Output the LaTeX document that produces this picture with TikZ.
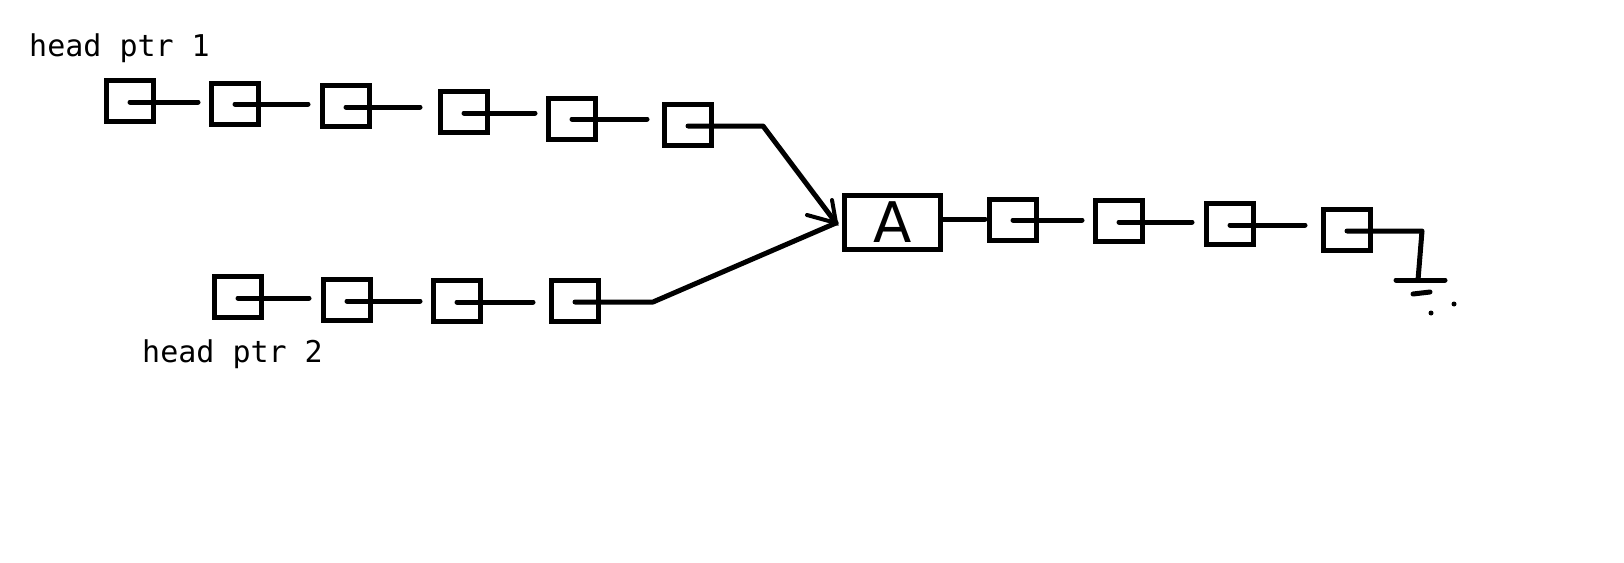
\documentclass[tikz,border=0pt]{standalone}
\usepackage{fontspec}
\setmainfont{DejaVu Sans}
\setmonofont{DejaVu Sans Mono}
\begin{document}
\begin{tikzpicture}[x=1pt,y=-1pt,
  cell/.style={draw, line width=5pt, minimum width=47pt, minimum height=41pt, inner sep=0pt, outer sep=0pt},
  bigcell/.style={draw, line width=5pt, minimum width=96pt, minimum height=54pt, inner sep=0pt, outer sep=0pt,
    font=\fontsize{56}{60}\selectfont},
  ptr/.style={line width=5pt, line cap=round, line join=round},
  lbl/.style={anchor=base west, inner sep=0pt, font=\ttfamily\fontsize{30}{36}\selectfont}]
\useasboundingbox (0,0) rectangle (1624,562);
% labels
\node[lbl] (h1) at (29,56) {head ptr 1};
\node[lbl] (h2) at (142,362) {head ptr 2};
% top list
\node[cell] (t1) at (130,101) {};
\node[cell] (t2) at (235,104) {};
\node[cell] (t3) at (346,106) {};
\node[cell] (t4) at (464,112) {};
\node[cell] (t5) at (572,119) {};
\node[cell] (t6) at (688,125) {};
% bottom list
\node[cell] (c1) at (238,297) {};
\node[cell] (c2) at (347,300) {};
\node[cell] (c3) at (457,301) {};
\node[cell] (c4) at (575,301) {};
% shared list
\node[bigcell] (a) at (892.5,222.5) {A};
\node[cell] (b1) at (1013,219.5) {};
\node[cell] (b2) at (1119,221) {};
\node[cell] (b3) at (1230,224) {};
\node[cell] (b4) at (1347,230) {};
% free ends
\coordinate (e1) at (198,102);
\coordinate (e2) at (308,104);
\coordinate (e3) at (420,107);
\coordinate (e4) at (535,113);
\coordinate (e5) at (647,119);
\coordinate (e6) at (763,126);
\coordinate (f1) at (309,298);
\coordinate (f2) at (420,301);
\coordinate (f3) at (533,302);
\coordinate (f4) at (653,302);
\coordinate (tip) at (836,223);
\coordinate (barbA) at (832,200);
\coordinate (barbB) at (807,215);
\coordinate (g1) at (985,219);
\coordinate (k1) at (1082,220);
\coordinate (k2) at (1192,222);
\coordinate (k3) at (1305,225);
\coordinate (k4) at (1422,231);
\coordinate (gnd) at (1418,280);
\coordinate (gl) at (1396,280);
\coordinate (gr) at (1445,280);
\coordinate (dl) at (1413,294);
\coordinate (dr) at (1430,292);
% pointers top
\draw[ptr] (t1.center |- e1) -- (e1);
\draw[ptr] (t2.center |- e2) -- (e2);
\draw[ptr] (t3.center |- e3) -- (e3);
\draw[ptr] (t4.center |- e4) -- (e4);
\draw[ptr] (t5.center |- e5) -- (e5);
\draw[ptr] (t6.center |- e6) -- (e6) -- (tip);
% pointers bottom
\draw[ptr] (c1.center |- f1) -- (f1);
\draw[ptr] (c2.center |- f2) -- (f2);
\draw[ptr] (c3.center |- f3) -- (f3);
\draw[ptr] (c4.center |- f4) -- (f4) -- (tip);
% arrowhead
\draw[line width=4pt, line cap=round] (barbA) -- (tip) -- (barbB);
% shared list pointers
\draw[ptr] (a.east |- g1) -- (g1);
\draw[ptr] (b1.center |- k1) -- (k1);
\draw[ptr] (b2.center |- k2) -- (k2);
\draw[ptr] (b3.center |- k3) -- (k3);
\draw[ptr] (b4.center |- k4) -- (k4) -- (gnd);
% ground symbol
\draw[ptr] (gl) -- (gr);
\draw[ptr] (dl) -- (dr);
\fill (1431,313) circle (2.5pt);
\fill (1454,304) circle (2.5pt);
\end{tikzpicture}
\end{document}
